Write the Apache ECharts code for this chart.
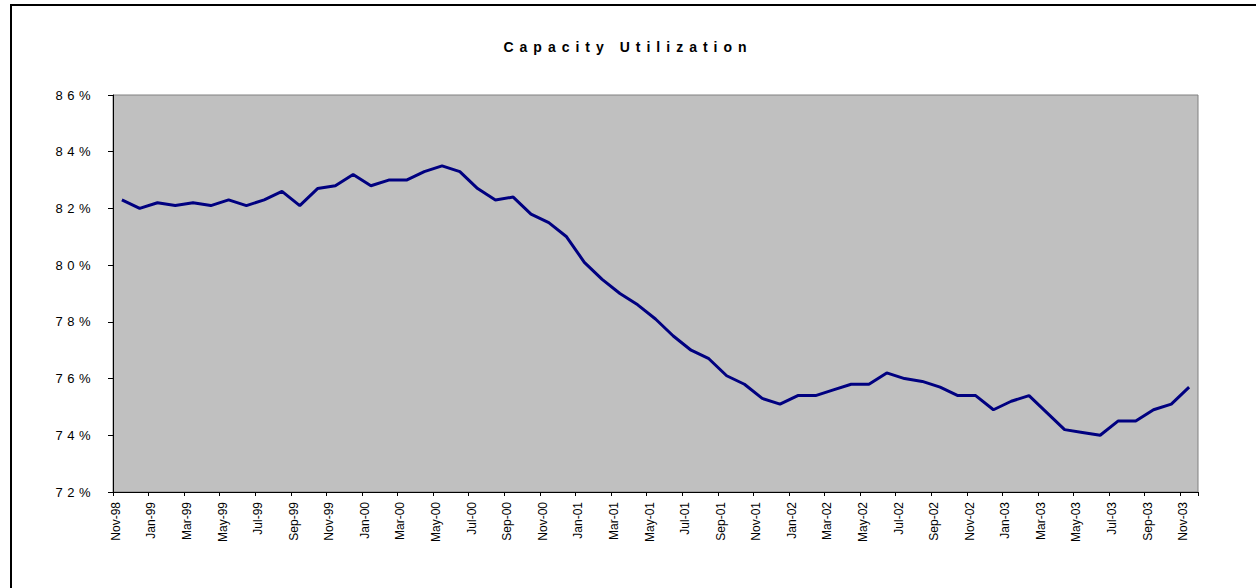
<!DOCTYPE html>
<html>
<head>
<meta charset="utf-8">
<title>Capacity Utilization</title>
<script src="https://cdn.jsdelivr.net/npm/echarts@6/dist/echarts.min.js"></script>
<style>
    html, body { margin: 0; padding: 0; background: #fff; }
    #utilChart { width: 1256px; height: 588px; }
</style>
</head>
<body>
<div id="utilChart"></div>
<script>
// 月份（横轴类目）
const categories = [
    'Nov-98', 'Dec-98',
    'Jan-99', 'Feb-99', 'Mar-99', 'Apr-99', 'May-99', 'Jun-99', 'Jul-99', 'Aug-99', 'Sep-99', 'Oct-99', 'Nov-99', 'Dec-99',
    'Jan-00', 'Feb-00', 'Mar-00', 'Apr-00', 'May-00', 'Jun-00', 'Jul-00', 'Aug-00', 'Sep-00', 'Oct-00', 'Nov-00', 'Dec-00',
    'Jan-01', 'Feb-01', 'Mar-01', 'Apr-01', 'May-01', 'Jun-01', 'Jul-01', 'Aug-01', 'Sep-01', 'Oct-01', 'Nov-01', 'Dec-01',
    'Jan-02', 'Feb-02', 'Mar-02', 'Apr-02', 'May-02', 'Jun-02', 'Jul-02', 'Aug-02', 'Sep-02', 'Oct-02', 'Nov-02', 'Dec-02',
    'Jan-03', 'Feb-03', 'Mar-03', 'Apr-03', 'May-03', 'Jun-03', 'Jul-03', 'Aug-03', 'Sep-03', 'Oct-03', 'Nov-03'
];

// 产能利用率（%）
const utilization = [
    82.3, 82.0,
    82.2, 82.1, 82.2, 82.1, 82.3, 82.1, 82.3, 82.6, 82.1, 82.7, 82.8, 83.2,
    82.8, 83.0, 83.0, 83.3, 83.5, 83.3, 82.7, 82.3, 82.4, 81.8, 81.5, 81.0,
    80.1, 79.5, 79.0, 78.6, 78.1, 77.5, 77.0, 76.7, 76.1, 75.8, 75.3, 75.1,
    75.4, 75.4, 75.6, 75.8, 75.8, 76.2, 76.0, 75.9, 75.7, 75.4, 75.4, 74.9,
    75.2, 75.4, 74.8, 74.2, 74.1, 74.0, 74.5, 74.5, 74.9, 75.1, 75.7
];

// 纵轴刻度
const yMin = 72;
const yMax = 86;
const yStep = 2;

const FONT = 'Arial, "Liberation Sans", sans-serif';
const TITLE = 'Capacity Utilization';

document.addEventListener('DOMContentLoaded', function () {
    initializeChart();
});

// 初始化图表
function initializeChart() {
    const chartDom = document.getElementById('utilChart');
    if (!chartDom) {
        console.error('Error: Unable to find chart container.');
        return;
    }

    const utilChart = echarts.init(chartDom, null, { renderer: 'svg' });
    utilChart.setOption(getChartOptions());

    // 字间距（Excel 图被横向拉伸后的效果）
    applyLetterSpacing(chartDom);
    utilChart.on('finished', function () {
        applyLetterSpacing(chartDom);
    });

    window.utilChart = utilChart;
}

// 给标题和纵轴标签加字间距
function applyLetterSpacing(chartDom) {
    chartDom.querySelectorAll('text').forEach(function (t) {
        const s = t.textContent;
        if (s === TITLE) {
            t.style.letterSpacing = '6px';
        } else if (/%$/.test(s)) {
            t.style.letterSpacing = '4.5px';
        }
    });
}

// 获取图表配置
function getChartOptions() {
    return {
        animation: false,
        backgroundColor: '#ffffff',
        title: {
            text: TITLE,
            left: 'center',
            top: 35,
            textStyle: {
                fontFamily: FONT,
                fontSize: 14,
                fontWeight: 'bold',
                color: '#000000'
            }
        },
        // 外框（只露出左边和上边）
        graphic: [
            {
                type: 'rect',
                shape: { x: 11, y: 5, width: 1400, height: 800 },
                style: { fill: 'none', stroke: '#000000', lineWidth: 2 },
                silent: true
            }
        ],
        grid: {
            left: 113,
            right: 58,
            top: 95,
            bottom: 96,
            show: true,
            backgroundColor: '#c0c0c0',
            borderColor: '#808080',
            borderWidth: 1
        },
        xAxis: {
            type: 'category',
            data: categories,
            boundaryGap: true,
            axisLine: { show: true, lineStyle: { color: '#000000', width: 1 } },
            axisTick: { show: true, interval: 1, length: 4, lineStyle: { color: '#000000' } },
            axisLabel: {
                interval: 1,
                rotate: 90,
                margin: 10,
                verticalAlign: 'bottom',
                fontFamily: FONT,
                fontSize: 12,
                color: '#000000'
            },
            splitLine: { show: false }
        },
        yAxis: {
            type: 'value',
            min: yMin,
            max: yMax,
            interval: yStep,
            axisLine: { show: true, lineStyle: { color: '#000000', width: 1 } },
            axisTick: { show: true, length: 5, lineStyle: { color: '#000000' } },
            axisLabel: {
                formatter: '{value}%',
                margin: 18,
                fontFamily: FONT,
                fontSize: 13,
                color: '#000000'
            },
            splitLine: { show: false }
        },
        series: [
            {
                name: 'Capacity Utilization',
                type: 'line',
                data: utilization,
                showSymbol: false,
                symbol: 'none',
                lineStyle: { color: '#000080', width: 3 },
                itemStyle: { color: '#000080' }
            }
        ]
    };
}
</script>
</body>
</html>
